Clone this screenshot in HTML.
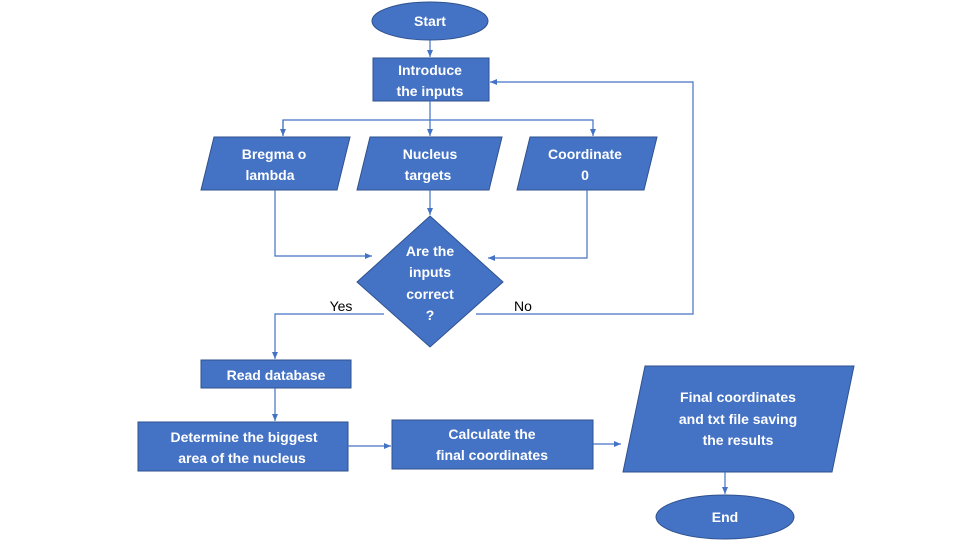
<!DOCTYPE html>
<html><head><meta charset="utf-8"><style>
html,body{margin:0;padding:0;background:#fff;}
svg text{font-family:"Liberation Sans",sans-serif;font-size:14px;font-weight:bold;fill:#fff;text-anchor:middle;}
</style></head><body>
<svg width="960" height="540" viewBox="0 0 960 540" xmlns="http://www.w3.org/2000/svg">
<defs><marker id="a" markerWidth="8" markerHeight="8" refX="7" refY="4" orient="auto" markerUnits="userSpaceOnUse"><path d="M0,1 L7,4 L0,7 Z" fill="#4472C4"/></marker></defs>
<g fill="#4472C4" stroke="#2F528F" stroke-width="1">
<ellipse cx="430" cy="21" rx="58" ry="19"/>
<rect x="373" y="58" width="116" height="43"/>
<polygon points="214,137 350,137 337,190 201,190"/>
<polygon points="370,137 502,137 489,190 357,190"/>
<polygon points="530,137 657,137 644,190 517,190"/>
<polygon points="430,216 503,282 430,347 357,282"/>
<rect x="201" y="360" width="150" height="28"/>
<rect x="138" y="422" width="210" height="49"/>
<rect x="392" y="420" width="201" height="49"/>
<polygon points="645,366 854,366 832,472 623,472"/>
<ellipse cx="725" cy="517" rx="69" ry="22"/>
</g>
<g fill="none" stroke="#4472C4" stroke-width="1.2">
<line x1="430" y1="40" x2="430" y2="57" marker-end="url(#a)"/>
<line x1="430" y1="101" x2="430" y2="136" marker-end="url(#a)"/>
<polyline points="283,136 283,120 593,120 593,136" marker-end="url(#a)"/>
<line x1="283" y1="120" x2="283" y2="136" marker-end="url(#a)"/>
<line x1="430" y1="190" x2="430" y2="215" marker-end="url(#a)"/>
<polyline points="275,190 275,256 372,256" marker-end="url(#a)"/>
<polyline points="587,190 587,258 488,258" marker-end="url(#a)"/>
<polyline points="384,314 275,314 275,359" marker-end="url(#a)"/>
<polyline points="476,314 693,314 693,82 490,82" marker-end="url(#a)"/>
<line x1="275" y1="388" x2="275" y2="421" marker-end="url(#a)"/>
<line x1="348" y1="446" x2="391" y2="446" marker-end="url(#a)"/>
<line x1="593" y1="444" x2="621" y2="444" marker-end="url(#a)"/>
<line x1="725" y1="472" x2="725" y2="494" marker-end="url(#a)"/>
</g>
<text x="430" y="26">Start</text>
<text x="430" y="75">Introduce</text>
<text x="430" y="96">the inputs</text>
<text x="274" y="159">Bregma o</text>
<text x="270" y="180">lambda</text>
<text x="430" y="159">Nucleus</text>
<text x="428" y="180">targets</text>
<text x="585" y="159">Coordinate</text>
<text x="585" y="180">0</text>
<text x="430" y="256">Are the</text>
<text x="430" y="277">inputs</text>
<text x="430" y="299">correct</text>
<text x="430" y="320">?</text>
<text x="341" y="311" style="fill:#000;font-weight:normal">Yes</text>
<text x="523" y="311" style="fill:#000;font-weight:normal">No</text>
<text x="276" y="380">Read database</text>
<text x="244" y="442">Determine the biggest</text>
<text x="242" y="463">area of the nucleus</text>
<text x="492" y="439">Calculate the</text>
<text x="492" y="460">final coordinates</text>
<text x="738" y="402">Final coordinates</text>
<text x="738" y="424">and txt file saving</text>
<text x="738" y="445">the results</text>
<text x="725" y="522">End</text>
</svg>
</body></html>
